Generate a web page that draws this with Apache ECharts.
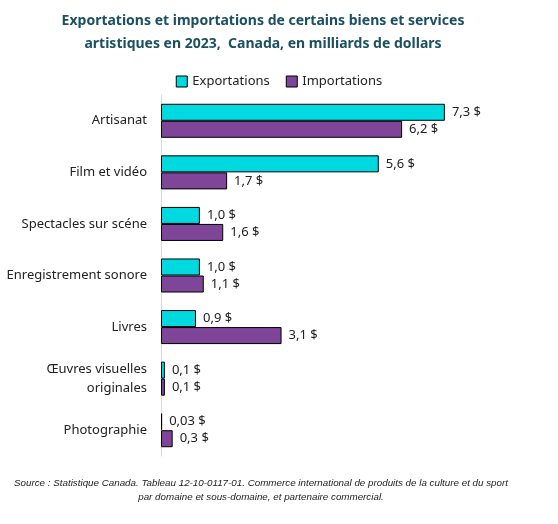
<!DOCTYPE html>
<html><head><meta charset="utf-8">
<script src="https://cdn.jsdelivr.net/npm/echarts@6/dist/echarts.min.js"></script>
<style>html,body{margin:0;padding:0;background:#fff}#c{width:558px;height:524px}</style>
</head><body><div id="c"></div>
<script>
const categories = ['Artisanat','Film et vidéo','Spectacles sur scéne','Enregistrement sonore','Livres','Œuvres visuelles\noriginales','Photographie'];
const exportations = [7.3, 5.6, 1.0, 1.0, 0.9, 0.1, 0.03];
const importations = [6.2, 1.7, 1.6, 1.1, 3.1, 0.1, 0.3];
const seriesNames = ['Exportations','Importations'];
const titleText = 'Exportations et importations de certains biens et services\nartistiques en 2023,  Canada, en milliards de dollars';
const sourceText = 'Source : Statistique Canada. Tableau 12-10-0117-01. Commerce international de produits de la culture et du sport\npar domaine et sous-domaine, et partenaire commercial.';

function fmt(p){ const v=p.value; return (v<0.1? v.toFixed(2): v.toFixed(1)).replace('.',',')+' $'; }
const chart = echarts.init(document.getElementById('c'));
const lab = {show:true, position:'right', distance:7, formatter:fmt, color:'#222', fontFamily:'Noto Sans', fontSize:13};
chart.setOption({
  animation:false,
  graphic:[
    {type:'text', x:263, y:10, style:{text:titleText, align:'center', fontFamily:'Noto Sans', fontWeight:'bold', fontSize:14, lineHeight:23, fill:'#1B4F62'}},
    {type:'text', x:261, y:476, style:{text:sourceText, align:'center', fontFamily:'Liberation Sans', fontStyle:'italic', fontSize:9.8, lineHeight:14, fill:'#222'}}
  ],
  legend:{top:70, left:'center', itemWidth:11, itemHeight:11, itemGap:16, itemStyle:{borderColor:'#000', borderWidth:1}, icon:'rect',
    textStyle:{fontFamily:'Noto Sans', fontSize:13, color:'#222'}, data:seriesNames},
  grid:{left:161, right:47, top:95, bottom:68, containLabel:false},
  xAxis:{type:'value', min:0, max:9, show:false},
  yAxis:{type:'category', data:categories, inverse:true,
    axisLine:{show:true, lineStyle:{color:'#d9d9d9'}}, axisTick:{show:false},
    axisLabel:{margin:14, fontFamily:'Noto Sans', fontSize:13, color:'#222', lineHeight:19, align:'right'}},
  series:[
    {name:seriesNames[0], type:'bar', data:exportations, barGap:'0%', barCategoryGap:'34%',
     itemStyle:{color:'#00D9E0', borderColor:'#000', borderWidth:1}, label:lab},
    {name:seriesNames[1], type:'bar', data:importations,
     itemStyle:{color:'#7E4598', borderColor:'#000', borderWidth:1}, label:lab}
  ]
});
</script></body></html>
